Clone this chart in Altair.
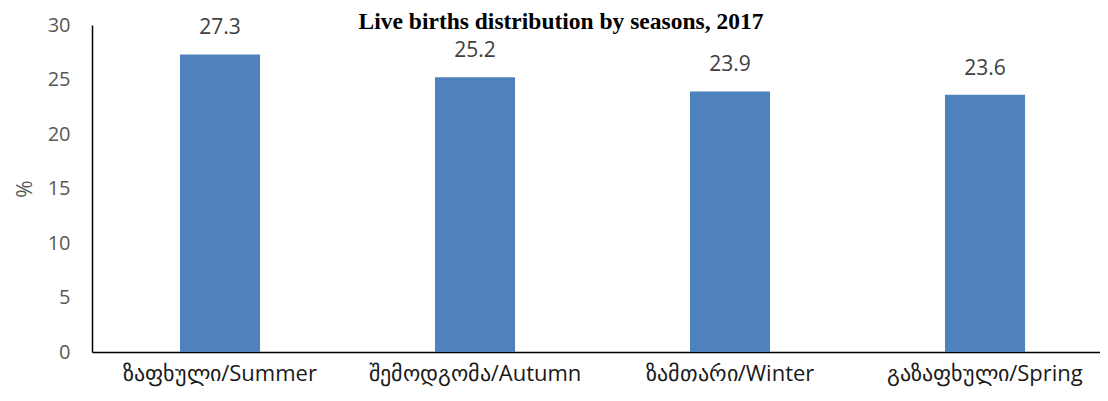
import altair as alt
import pandas as pd

categories = ["ზაფხული/Summer", "შემოდგომა/Autumn", "ზამთარი/Winter", "გაზაფხული/Spring"]
values = [27.3, 25.2, 23.9, 23.6]

df = pd.DataFrame({"season": categories, "pct": values})

base = alt.Chart(df).encode(
    x=alt.X("season:N", sort=categories,
            scale=alt.Scale(paddingInner=0.686, paddingOuter=0.3195, align=0.54),
            axis=alt.Axis(title=None, labelAngle=0, labelFontSize=22, labelColor="#1a1a1a",
                          labelFont="Open Sans", domainColor="#000000", domainWidth=1.5,
                          ticks=False, labelPadding=11, labelLimit=400)),
    y=alt.Y("pct:Q", scale=alt.Scale(domain=[0, 30]),
            axis=alt.Axis(title="%", titleFontSize=21, titleColor="#595959", titleFontWeight="normal",
                          titleFont="Open Sans", titlePadding=12,
                          values=[0, 5, 10, 15, 20, 25, 30], labelFontSize=20, labelColor="#595959",
                          labelFont="Open Sans", grid=False, ticks=False, domainColor="#000000",
                          domainWidth=1.5, labelPadding=22)),
)

bars = base.mark_bar(color="#4F81BD")
labels = base.mark_text(dy=-26, fontSize=21, color="#404040", font="Open Sans").encode(
    text=alt.Text("pct:Q", format=".1f"))

chart = (bars + labels).properties(
    width=1008, height=327,
    autosize=alt.AutoSizeParams(type="none"),
    padding={"left": 84, "top": 17, "right": 0, "bottom": 40},
    title=alt.TitleParams("Live births distribution by seasons, 2017", font="Liberation Serif",
                          fontSize=23.5, fontWeight="bold", color="#000000", anchor="middle",
                          dx=-35, offset=-18),
).configure_view(stroke=None)

chart.save("out.html", embed_options={"renderer": "svg", "actions": False})
